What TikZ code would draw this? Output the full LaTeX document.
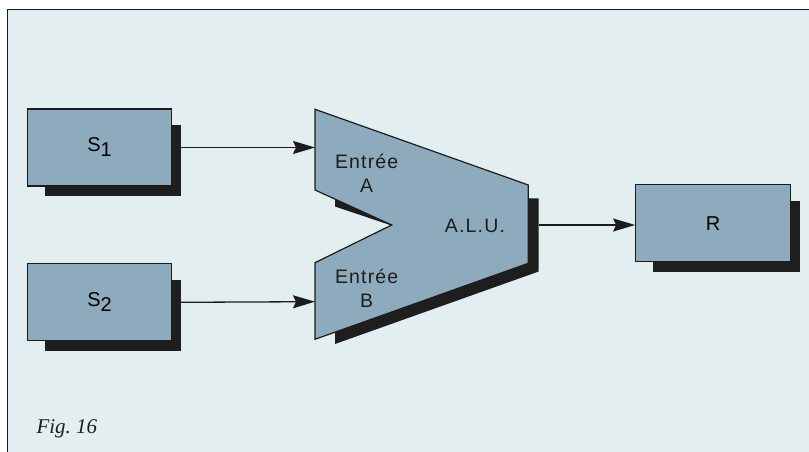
\documentclass[tikz,border=0pt]{standalone}
\usepackage{fontspec}
\setmainfont{Liberation Serif}
\setsansfont{Liberation Sans}[LetterSpace=6]
\usepackage{tikz}
\usetikzlibrary{arrows.meta,backgrounds,calc,positioning}
\definecolor{AluPaper}{HTML}{E3EEF1}
\definecolor{AluFill}{HTML}{8EABBD}
\definecolor{AluInk}{HTML}{1C1C1C}
\definecolor{AluShadow}{HTML}{1E1E1E}
\tikzset{
  >={Stealth[length=22pt,width=13pt,inset=3pt]},
  unitbox/.style={draw=AluInk,line width=1.2pt,fill=AluFill,minimum width=144pt,
    minimum height=77pt,inner sep=0pt,font=\sffamily\fontsize{20}{24}\selectfont},
  alubody/.style={draw=AluInk,line width=1.2pt,fill=AluFill,line join=miter},
  shadowfill/.style={fill=AluShadow},
  wire/.style={->,line width=1.3pt,draw=AluInk},
  alutext/.style={align=center,text=AluInk,font=\sffamily\fontsize{19.5}{24}\selectfont},
  caption/.style={anchor=base west,font=\itshape\fontsize{21}{24}\selectfont,text=AluInk}
}
\begin{document}
\begin{tikzpicture}[x=1pt,y=1pt]
  \useasboundingbox (0,0) rectangle (809,452);

  \node[unitbox] (s1) at (99.5,304.5) {S\raisebox{-5pt}{1}};
  \node[unitbox,below=76.6pt of s1] (s2) {S\raisebox{-5pt}{2}};
  \node[unitbox,minimum width=155pt] (r) at (713.2,228.7) {R};

  % A.L.U. body
  \fill[shadowfill] (335,253.5) -- (538.7,253.5) -- (538.7,180.5) -- (335,108)
    -- (335,190) -- (396,225) -- (335,245.5) -- cycle;
  \draw[alubody] (315,342.7) -- (528.3,267) -- (528.3,188.7) -- (315,112.7)
    -- (315,189.3) -- (391.7,227) -- (315,262) -- cycle;
  \coordinate (alua) at (315,304.5);
  \coordinate (alub) at (315,150.3);
  \coordinate (aluout) at (538.7,227);

  \node[alutext] (ina) at (366.7,279) {Entrée\\A};
  \node[alutext] (inb) at (366.7,163.7) {Entrée\\B};
  \node[alutext] (alu) at (475,226.3) {A.L.U.};

  \begin{scope}[on background layer]
    \fill[white] (0,0) rectangle (809,452);
    \fill[AluPaper] (7.3,0) rectangle (809,442.7);
    \draw[AluInk,line width=1.2pt] (7.3,0) -- (7.3,442.7) -- (809,442.7);
    \foreach \n in {s1,s2,r}
      \fill[shadowfill] ($(\n.south west)+(18,-9.5)$) rectangle ($(\n.north east)+(9,-17)$);
  \end{scope}

  \draw[wire] ($(s1.east)+(9,0)$) -- (alua);
  \draw[wire] ($(s2.east)+(9,0)$) -- (alub);
  \draw[wire] (aluout) -- (aluout -| r.west);

  \node[caption] (fig) at (33,18) {Fig.\ 16};
\end{tikzpicture}
\end{document}
